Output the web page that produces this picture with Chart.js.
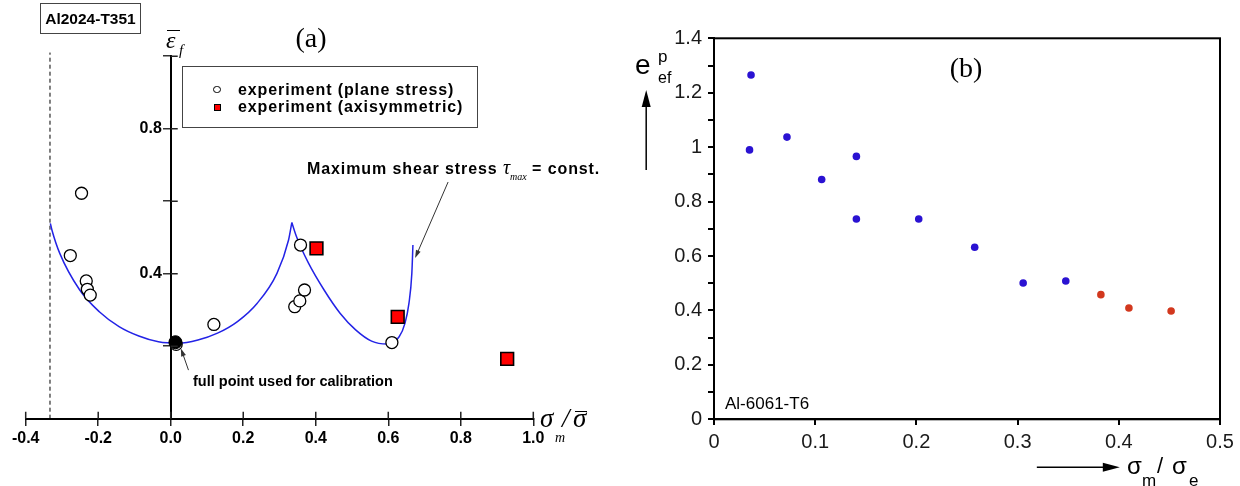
<!DOCTYPE html>
<html>
<head>
<meta charset="utf-8">
<script src="https://cdn.jsdelivr.net/npm/chart.js@4.4.1/dist/chart.umd.min.js"></script>
<style>
  html, body { margin: 0; padding: 0; background: #fff; }
  #wrap { position: relative; width: 1240px; height: 486px; overflow: hidden; }
  canvas { position: absolute; top: 0; }
  #chartA { left: 0; }
  #chartB { left: 620px; }
  .t { position: absolute; white-space: nowrap; line-height: 1; transform: translateY(-50%); color: #000; }
  .c { transform: translate(-50%, -50%); }
  .sans { font-family: "Liberation Sans", Arial, sans-serif; }
  .serif { font-family: "Liberation Serif", "Times New Roman", serif; }
  .b { font-weight: bold; }
  .i { font-style: italic; }
  .box { position: absolute; box-sizing: border-box; border: 1.5px solid #444; }
</style>
</head>
<body>
<div id="wrap">
  <canvas id="chartA" width="620" height="486"></canvas>
  <canvas id="chartB" width="620" height="486"></canvas>

  <!-- panel (a) texts -->
  <div class="box sans b" style="left:40px;top:3px;width:101px;height:31px;font-size:15.5px;display:flex;align-items:center;justify-content:center;">Al2024-T351</div>
  <div class="t c serif" style="left:311px;top:38px;font-size:28px;">(a)</div>
  <div class="t serif i" style="left:166px;top:40px;font-size:24px;">ε</div>
  <div style="position:absolute;left:167px;top:30px;width:13px;height:1.3px;background:#000;"></div>
  <div class="t serif i" style="left:179px;top:50px;font-size:15px;">f</div>

  <div class="box" style="left:182px;top:66px;width:296px;height:62px;"></div>
  <div style="position:absolute;left:213px;top:85.5px;width:7.5px;height:7.5px;box-sizing:border-box;border:1.3px solid #000;border-radius:50%;background:#fff;"></div>
  <div style="position:absolute;left:213.5px;top:103.5px;width:7px;height:7px;box-sizing:border-box;border:1.3px solid #000;background:#f00;"></div>
  <div class="t sans b" style="left:238px;top:89.5px;font-size:16px;letter-spacing:0.9px;">experiment (plane stress)</div>
  <div class="t sans b" style="left:238px;top:107px;font-size:16px;letter-spacing:0.9px;">experiment (axisymmetric)</div>

  <div class="t sans b" style="left:307px;top:167px;font-size:16px;letter-spacing:0.9px;">Maximum shear stress <span class="serif i" style="font-size:20px;font-weight:normal;letter-spacing:0;">τ</span><span class="serif i" style="font-size:10px;font-weight:normal;position:relative;top:6px;letter-spacing:0;">max</span> = const.</div>
  <div class="t sans b" style="left:193px;top:381px;font-size:14.5px;">full point used for calibration</div>

  <div class="t serif i" style="left:540px;top:418px;font-size:27px;">σ</div>
  <div class="t serif i" style="left:555px;top:438px;font-size:14px;">m</div>
  <div class="t serif i" style="left:562px;top:418px;font-size:27px;">/</div>
  <div class="t serif i" style="left:573px;top:418px;font-size:27px;">σ</div>
  <div style="position:absolute;left:575px;top:411px;width:12px;height:1.3px;background:#000;"></div>

  <!-- panel (b) texts -->
  <div class="t c serif" style="left:966px;top:68px;font-size:28px;">(b)</div>
  <div class="t sans" style="left:635px;top:65px;font-size:28px;">e</div>
  <div class="t sans" style="left:658px;top:56px;font-size:17px;">p</div>
  <div class="t sans" style="left:658px;top:78px;font-size:16px;">ef</div>
  <div class="t sans" style="left:725px;top:403px;font-size:17px;">Al-6061-T6</div>
  <div class="t sans" style="left:1127px;top:466px;font-size:24px;">σ</div>
  <div class="t sans" style="left:1142px;top:480px;font-size:17px;">m</div>
  <div class="t sans" style="left:1157px;top:466px;font-size:22px;">/</div>
  <div class="t sans" style="left:1172px;top:466px;font-size:24px;">σ</div>
  <div class="t sans" style="left:1189px;top:480px;font-size:17px;">e</div>
</div>

<script>
// ---------- panel (a) data ----------
const xTicksA = [-0.4, -0.2, 0, 0.2, 0.4, 0.6, 0.8, 1.0];
const xLabelsA = ["-0.4", "-0.2", "0.0", "0.2", "0.4", "0.6", "0.8", "1.0"];
const yTicksA = [0, 0.2, 0.4, 0.6, 0.8, 1.0];
const yLabelsA = ["", "", "0.4", "", "0.8", ""];

// experiment (plane stress)
const planeX = [-0.277, -0.246, -0.233, -0.230, -0.222, 0.015, 0.119, 0.342, 0.356, 0.358, 0.369, 0.610];
const planeY = [0.450, 0.622, 0.380, 0.357, 0.341, 0.205, 0.260, 0.309, 0.325, 0.479, 0.355, 0.210];
// full point used for calibration
const calibX = [0.013];
const calibY = [0.211];
// experiment (axisymmetric)
const axiX = [0.402, 0.626, 0.928];
const axiY = [0.470, 0.281, 0.165];

// fracture locus, two branches meeting in a cusp
const locusLeftX = [-0.332, -0.3275, -0.306, -0.251, -0.197, -0.1425, -0.088, -0.034, 0.021, 0.075, 0.129, 0.184, 0.238, 0.293, 0.325, 0.334];
const locusLeftY = [0.539, 0.520, 0.456, 0.355, 0.295, 0.254, 0.228, 0.212, 0.208, 0.217, 0.236, 0.268, 0.318, 0.401, 0.493, 0.541];
const locusRightX = [0.334, 0.347, 0.380, 0.423, 0.467, 0.510, 0.554, 0.597, 0.630, 0.646, 0.657, 0.665, 0.668];
const locusRightY = [0.541, 0.502, 0.429, 0.355, 0.291, 0.245, 0.214, 0.206, 0.226, 0.263, 0.318, 0.401, 0.479];

// dashed limit at sigma_m/sigma = -1/3
const cutoffX = [-0.333, -0.333];
const cutoffY = [0, 1.01];

// ---------- panel (b) data ----------
const xTicksB = [0, 0.1, 0.2, 0.3, 0.4, 0.5];
const xLabelsB = ["0", "0.1", "0.2", "0.3", "0.4", "0.5"];
const yTicksB = [0, 0.1, 0.2, 0.3, 0.4, 0.5, 0.6, 0.7, 0.8, 0.9, 1.0, 1.1, 1.2, 1.3, 1.4];
const yLabelsB = ["0", "", "0.2", "", "0.4", "", "0.6", "", "0.8", "", "1", "", "1.2", "", "1.4"];

const blueX = [0.0366, 0.0351, 0.0721, 0.1064, 0.1407, 0.1407, 0.2023, 0.2576, 0.3055, 0.3476];
const blueY = [1.265, 0.990, 1.037, 0.881, 0.966, 0.736, 0.736, 0.632, 0.501, 0.508];
const redX = [0.3823, 0.4100, 0.4517];
const redY = [0.458, 0.409, 0.398];

const SANS = "'Liberation Sans', Arial, sans-serif";
const pts = (xs, ys) => xs.map((x, i) => ({ x: x, y: ys[i] }));

// arrows given in data units of each chart
const arrowsA = [
  { from: [0.765, 0.653], to: [0.674, 0.443], head: 8, half: 2.5, width: 1, color: "#333" },
  { from: [0.049, 0.134], to: [0.028, 0.194], head: 8, half: 2.5, width: 1, color: "#333" },
];
const arrowsB = [
  { from: [-0.067, 0.916], to: [-0.067, 1.21], head: 17, half: 4.5, width: 1.5, color: "#000" },
  { from: [0.319, -0.176], to: [0.401, -0.176], head: 17, half: 4.5, width: 1.5, color: "#000" },
];

function arrowLayer(list) {
  return {
    id: "arrowLayer",
    afterDraw(chart) {
      const { ctx, scales } = chart;
      list.forEach((a) => {
        const x1 = scales.x.getPixelForValue(a.from[0]);
        const y1 = scales.y.getPixelForValue(a.from[1]);
        const x2 = scales.x.getPixelForValue(a.to[0]);
        const y2 = scales.y.getPixelForValue(a.to[1]);
        const ang = Math.atan2(y2 - y1, x2 - x1);
        const c = Math.cos(ang), s = Math.sin(ang);
        ctx.save();
        ctx.strokeStyle = a.color;
        ctx.fillStyle = a.color;
        ctx.lineWidth = a.width;
        ctx.beginPath();
        ctx.moveTo(x1, y1);
        ctx.lineTo(x2 - c * a.head * 0.7, y2 - s * a.head * 0.7);
        ctx.stroke();
        ctx.beginPath();
        ctx.moveTo(x2, y2);
        ctx.lineTo(x2 - a.head * c + a.half * s, y2 - a.head * s - a.half * c);
        ctx.lineTo(x2 - a.head * c - a.half * s, y2 - a.head * s + a.half * c);
        ctx.closePath();
        ctx.fill();
        ctx.restore();
      });
    },
  };
}

// ticks of panel (a) cross the axes, so add the inner half
const crossTicks = {
  id: "crossTicks",
  afterDraw(chart) {
    const { ctx, scales: { x, y } } = chart;
    const x0 = x.getPixelForValue(0);
    const y0 = y.getPixelForValue(0);
    ctx.save();
    ctx.strokeStyle = "#222";
    ctx.lineWidth = 1.5;
    ctx.beginPath();
    x.ticks.forEach((t) => {
      const px = x.getPixelForValue(t.value);
      ctx.moveTo(px, y0);
      ctx.lineTo(px, y0 - 7);
    });
    y.ticks.forEach((t) => {
      const py = y.getPixelForValue(t.value);
      if (t.value === 0) return;
      ctx.moveTo(x0, py);
      ctx.lineTo(x0 + 7, py);
    });
    ctx.stroke();
    ctx.restore();
  },
};

// panel (b) is boxed
const frame = {
  id: "frame",
  afterDraw(chart) {
    const { ctx, chartArea: a } = chart;
    ctx.save();
    ctx.strokeStyle = "#000";
    ctx.lineWidth = 2;
    ctx.strokeRect(a.left, a.top, a.right - a.left, a.bottom - a.top);
    ctx.restore();
  },
};

// ---------- chart (a) ----------
new Chart(document.getElementById("chartA"), {
  type: "scatter",
  data: {
    datasets: [
      {
        data: pts(calibX, calibY),
        pointStyle: "circle",
        pointRadius: 6.5,
        backgroundColor: "#000",
        borderColor: "#000",
        borderWidth: 1,
      },
      {
        data: pts(planeX, planeY),
        pointStyle: "circle",
        pointRadius: 6,
        backgroundColor: "#fff",
        borderColor: "#000",
        borderWidth: 1.3,
      },
      {
        data: pts(axiX, axiY),
        pointStyle: "rect",
        pointRadius: 9,
        backgroundColor: "#ff0000",
        borderColor: "#000",
        borderWidth: 1.6,
      },
      {
        data: pts(locusLeftX, locusLeftY),
        showLine: true,
        pointRadius: 0,
        borderColor: "#2323e6",
        borderWidth: 1.5,
        cubicInterpolationMode: "monotone",
      },
      {
        data: pts(locusRightX, locusRightY),
        showLine: true,
        pointRadius: 0,
        borderColor: "#2323e6",
        borderWidth: 1.5,
        cubicInterpolationMode: "monotone",
      },
      {
        data: pts(cutoffX, cutoffY),
        showLine: true,
        pointRadius: 0,
        borderColor: "#000",
        borderWidth: 1,
        borderDash: [4, 3],
        clip: false,
      },
    ],
  },
  options: {
    responsive: false,
    devicePixelRatio: 1,
    animation: false,
    layout: { padding: { left: 25.7, right: 86.7, top: 56.2, bottom: 67.3 } },
    plugins: { legend: { display: false }, tooltip: { enabled: false } },
    scales: {
      x: {
        type: "linear",
        position: { y: 0 },
        min: -0.4,
        max: 1.0,
        afterBuildTicks: (s) => { s.ticks = xTicksA.map((v) => ({ value: v })); },
        ticks: {
          callback: (v, i) => xLabelsA[i],
          autoSkip: false,
          maxRotation: 0,
          padding: 4,
          color: "#000",
          font: { family: SANS, size: 16, weight: "bold" },
        },
        grid: { drawOnChartArea: false, drawTicks: true, tickLength: 6, color: "#222", lineWidth: 1.5 },
        border: { color: "#000", width: 2 },
      },
      y: {
        type: "linear",
        position: { x: 0 },
        min: 0,
        max: 1.0,
        afterBuildTicks: (s) => { s.ticks = yTicksA.map((v) => ({ value: v })); },
        ticks: {
          // a centred axis puts its labels right on the line, two spaces keep them clear of the ticks
          callback: (v, i) => (yLabelsA[i] ? yLabelsA[i] + "  " : ""),
          autoSkip: false,
          color: "#000",
          font: { family: SANS, size: 16, weight: "bold" },
        },
        grid: { drawOnChartArea: false, drawTicks: true, tickLength: 7, color: "#333", lineWidth: 1.5 },
        border: { color: "#000", width: 2 },
      },
    },
  },
  plugins: [crossTicks, arrowLayer(arrowsA)],
});

// ---------- chart (b) ----------
new Chart(document.getElementById("chartB"), {
  type: "scatter",
  data: {
    datasets: [
      {
        data: pts(redX, redY),
        pointStyle: "circle",
        pointRadius: 3.8,
        backgroundColor: "#d2381e",
        borderWidth: 0,
      },
      {
        data: pts(blueX, blueY),
        pointStyle: "circle",
        pointRadius: 3.8,
        backgroundColor: "#2a12d2",
        borderWidth: 0,
      },
    ],
  },
  options: {
    responsive: false,
    devicePixelRatio: 1,
    animation: false,
    layout: { padding: { left: 48.2, right: 20, top: 38.3, bottom: 66.7 } },
    plugins: { legend: { display: false }, tooltip: { enabled: false } },
    scales: {
      x: {
        type: "linear",
        position: { y: 0 },
        min: 0,
        max: 0.5,
        afterBuildTicks: (s) => { s.ticks = xTicksB.map((v) => ({ value: v })); },
        ticks: {
          callback: (v, i) => xLabelsB[i],
          autoSkip: false,
          maxRotation: 0,
          padding: 6,
          color: "#1a1a1a",
          font: { family: SANS, size: 20 },
        },
        grid: { drawOnChartArea: false, drawTicks: true, tickLength: 5, color: "#000", lineWidth: 2 },
        border: { color: "#000", width: 2 },
      },
      y: {
        type: "linear",
        position: "left",
        min: 0,
        max: 1.4,
        afterBuildTicks: (s) => { s.ticks = yTicksB.map((v) => ({ value: v })); },
        ticks: {
          callback: (v, i) => yLabelsB[i],
          autoSkip: false,
          padding: 6,
          color: "#1a1a1a",
          font: { family: SANS, size: 20 },
        },
        grid: { drawOnChartArea: false, drawTicks: true, tickLength: 6, color: "#000", lineWidth: 2 },
        border: { color: "#000", width: 2 },
      },
    },
  },
  plugins: [frame, arrowLayer(arrowsB)],
});
</script>
</body>
</html>
